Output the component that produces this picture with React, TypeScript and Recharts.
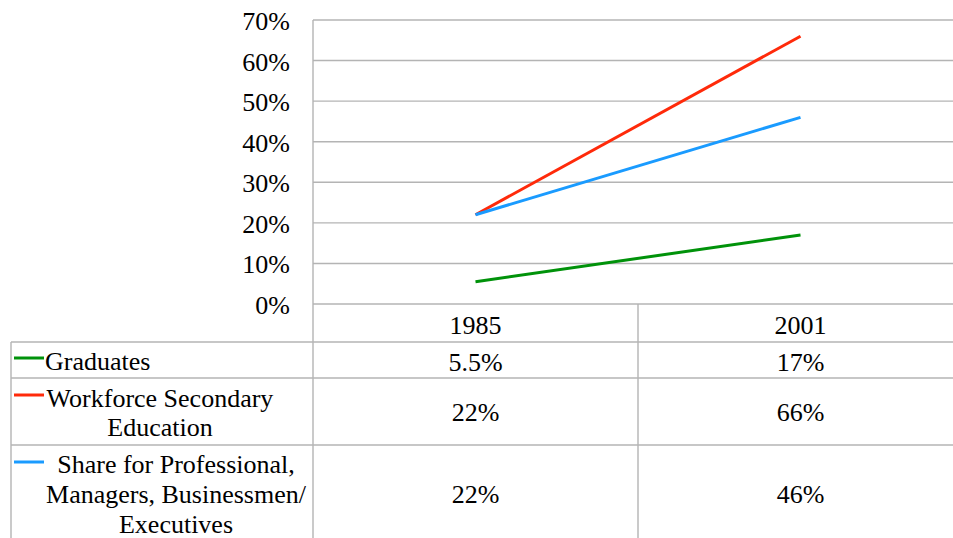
import React from "react";
import { LineChart, Line, XAxis, YAxis, CartesianGrid } from "recharts";

const years = ["1985", "2001"];
const graduates = [0.055, 0.17];
const workforce = [0.22, 0.66];
const share = [0.22, 0.46];
const yTicks = [0, 0.1, 0.2, 0.3, 0.4, 0.5, 0.6, 0.7];
const graduatesText = ["5.5%", "17%"];
const workforceText = ["22%", "66%"];
const shareText = ["22%", "46%"];

const seriesNames = {
  graduates: "Graduates",
  workforce: "Workforce Secondary Education",
  share: "Share for Professional, Managers, Businessmen/ Executives",
};

const COLORS = { graduates: "#00920A", workforce: "#FF2A0A", share: "#1A9BFF" };
const GRID = "#B4B4B4";
const FONT = "Liberation Serif";
const FS = 26;

const W = 953;
const H = 538;
const CHART_W = 963;
const PLOT_L = 313;
const PLOT_T = 20;
const PLOT_B = 304;
const X_AXIS_H = 40;

const data = years.map((y, i) => ({
  year: y,
  graduates: graduates[i],
  workforce: workforce[i],
  share: share[i],
}));

const bandW = (CHART_W - PLOT_L) / years.length;
const colCenter = (i: number) => PLOT_L + bandW * (i + 0.5);

const rows = [
  { key: "graduates", lines: ["Graduates"], anchor: "start", textX: 45, baselines: [370], markerY: 358, values: graduatesText, valueBaseline: 371, top: 342 },
  { key: "workforce", lines: ["Workforce Secondary", "Education"], anchor: "middle", textX: 160, baselines: [407, 436], markerY: 395, values: workforceText, valueBaseline: 421, top: 378 },
  { key: "share", lines: ["Share for Professional,", "Managers, Businessmen/", "Executives"], anchor: "middle", textX: 176, baselines: [473, 503, 533], markerY: 462, values: shareText, valueBaseline: 503, top: 445 },
];

const YTick = (props: any) => {
  const { y, payload } = props;
  return (
    <text x={290} y={y + 10} textAnchor="end" fontFamily={FONT} fontSize={FS} fill="#000">
      {`${Math.round(payload.value * 100)}%`}
    </text>
  );
};

const XTick = (props: any) => {
  const { x, payload } = props;
  return (
    <text x={x} y={334} textAnchor="middle" fontFamily={FONT} fontSize={FS} fill="#000">
      {payload.value}
    </text>
  );
};

export default function App() {
  return (
    <div style={{ position: "relative", width: W, height: H, overflow: "hidden", background: "#fff" }}>
      <style>{"html,body{margin:0;padding:0;}"}</style>
      <LineChart
        width={CHART_W}
        height={H}
        data={data}
        margin={{ top: PLOT_T, right: 0, left: 0, bottom: H - PLOT_B - X_AXIS_H }}
      >
        <CartesianGrid horizontal vertical={false} stroke={GRID} strokeWidth={1.4} />
        <XAxis
          dataKey="year"
          scale="band"
          height={X_AXIS_H}
          axisLine={false}
          tickLine={false}
          tick={<XTick />}
          interval={0}
        />
        <YAxis
          width={PLOT_L}
          domain={[0, 0.7]}
          ticks={yTicks}
          axisLine={false}
          tickLine={false}
          tick={<YTick />}
          interval={0}
        />
        <Line type="linear" dataKey="graduates" name={seriesNames.graduates} stroke={COLORS.graduates} strokeWidth={3} dot={false} isAnimationActive={false} />
        <Line type="linear" dataKey="workforce" name={seriesNames.workforce} stroke={COLORS.workforce} strokeWidth={3} dot={false} isAnimationActive={false} />
        <Line type="linear" dataKey="share" name={seriesNames.share} stroke={COLORS.share} strokeWidth={3} dot={false} isAnimationActive={false} />
      </LineChart>
      <svg width={W} height={H} style={{ position: "absolute", left: 0, top: 0, pointerEvents: "none" }}>
        <line x1={PLOT_L} x2={PLOT_L} y1={PLOT_T} y2={H} stroke={GRID} strokeWidth={1.4} />
        <line x1={PLOT_L + bandW} x2={PLOT_L + bandW} y1={PLOT_B} y2={H} stroke={GRID} strokeWidth={1.4} />
        <line x1={11} x2={11} y1={342} y2={H} stroke={GRID} strokeWidth={1.4} />
        {rows.map((r) => (
          <line key={`h-${r.key}`} x1={11} x2={W} y1={r.top} y2={r.top} stroke={GRID} strokeWidth={1.4} />
        ))}
        {rows.map((r) => (
          <g key={r.key}>
            <line x1={14} x2={44} y1={r.markerY} y2={r.markerY} stroke={(COLORS as any)[r.key]} strokeWidth={3} />
            {r.lines.map((t, j) => (
              <text key={j} x={r.textX} y={r.baselines[j]} textAnchor={r.anchor as any} fontFamily={FONT} fontSize={FS} fill="#000">
                {t}
              </text>
            ))}
            {r.values.map((v, i) => (
              <text key={`v${i}`} x={colCenter(i)} y={r.valueBaseline} textAnchor="middle" fontFamily={FONT} fontSize={FS} fill="#000">
                {v}
              </text>
            ))}
          </g>
        ))}
      </svg>
    </div>
  );
}
